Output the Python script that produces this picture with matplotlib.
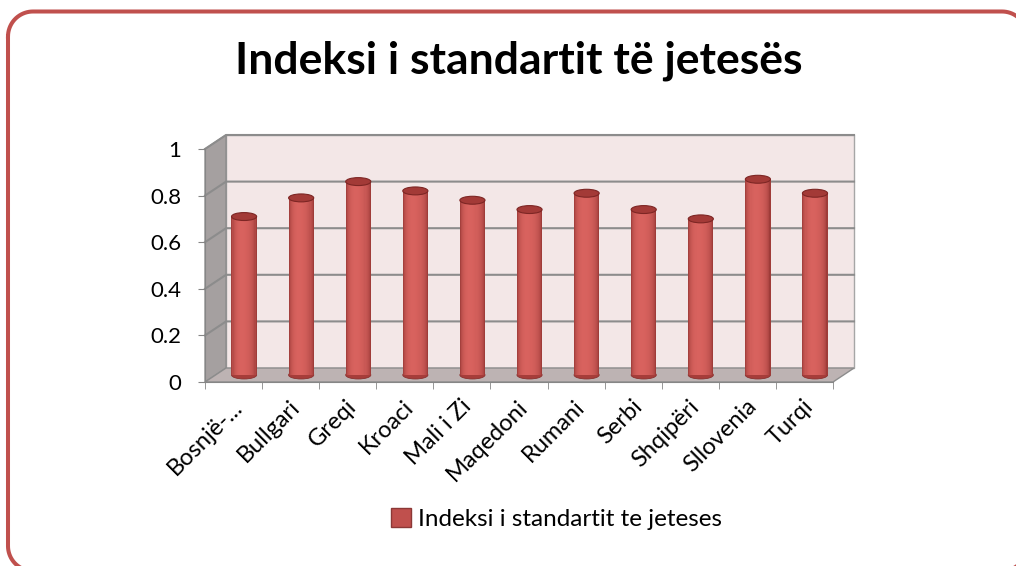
import matplotlib.pyplot as plt
import matplotlib.transforms as mtransforms
import numpy as np
from matplotlib.colors import to_rgb
from matplotlib.lines import Line2D
from matplotlib.patches import Ellipse, Patch, Polygon, Rectangle

countries = ["Bosnjë-...", "Bullgari", "Greqi", "Kroaci", "Mali i Zi", "Maqedoni",
             "Rumani", "Serbi", "Shqipëri", "Sllovenia", "Turqi"]
values = [0.68, 0.76, 0.83, 0.79, 0.75, 0.71, 0.78, 0.71, 0.67, 0.84, 0.78]
y_ticks = [0, 0.2, 0.4, 0.6, 0.8, 1]
y_labels = ["0", "0.2", "0.4", "0.6", "0.8", "1"]
series_name = "Indeksi i standartit te jeteses"
title = "Indeksi i standartit të jetesës"

plt.rcParams["font.family"] = ["Lato", "DejaVu Sans"]

DX, DY = 0.368, 0.060   # depth of the 3d box, in data units
BAR_W = 0.44
CAP_H = 0.034
GRID = "#8c8c8c"


def rounded_frame(x0, y0, x1, y1, r):
    # outline of a rounded rectangle (inches), traced clockwise
    a = np.linspace(0, np.pi / 2, 20)
    xs, ys = [], []
    corners = [(x0 + r, y1 - r, np.pi), (x1 - r, y1 - r, np.pi / 2),
               (x1 - r, y0 + r, 0), (x0 + r, y0 + r, -np.pi / 2)]
    for cx, cy, start in corners:
        t = start - a
        xs.extend(cx + r * np.cos(t))
        ys.extend(cy + r * np.sin(t))
    xs.append(xs[0])
    ys.append(ys[0])
    return xs, ys


def main():
    n = len(values)
    fig = plt.figure(figsize=(10.16, 5.66), dpi=100)
    ax = fig.add_axes([0.2018, 0.3251, 0.6181, 0.4117])
    ax.set_xlim(0, n)
    ax.set_ylim(0, 1)
    ax.patch.set_visible(False)

    # box: back wall, side wall, floor
    ax.add_patch(Rectangle((DX, DY), n, 1, facecolor="#f3e7e7", edgecolor="#a6a6a6",
                           lw=1, zorder=0.5, clip_on=False))
    ax.add_patch(Polygon([(0, 0), (0, 1), (DX, 1 + DY), (DX, DY)], facecolor="#a5a0a0",
                         edgecolor=GRID, lw=1, zorder=0.6, clip_on=False))
    ax.add_patch(Polygon([(0, 0), (n, 0), (n + DX, DY), (DX, DY)], facecolor="#bdb3b3",
                         edgecolor=GRID, lw=1, zorder=0.7, clip_on=False))
    for t in y_ticks[1:]:
        ax.plot([0, DX, n + DX], [t, t + DY, t + DY], color=GRID, lw=1.5,
                zorder=0.65, clip_on=False)

    # cylinders
    x = np.arange(n) + 0.5 + DX / 2
    base = DY / 2
    dark = np.array(to_rgb("#7a2422"))
    light = np.array(to_rgb("#d8625e"))
    n_strip = 24
    sw = BAR_W / n_strip
    for i in range(n):
        ax.add_patch(Ellipse((x[i], base), BAR_W, CAP_H, facecolor="#a63d3a",
                             edgecolor="#8a302e", lw=0.6, zorder=1.9, clip_on=False))
    for k in range(n_strip):
        u = (k + 0.5) / n_strip * 2 - 1
        if u < -0.2:
            w = (u + 0.2) / 0.8
        else:
            w = (u + 0.2) / 1.2
        s = np.sqrt(max(0.0, 1 - w ** 2)) ** 0.7
        col = dark + (light - dark) * s
        ax.bar(x - BAR_W / 2 + (k + 0.5) * sw, values, width=sw * 1.15, bottom=base,
               color=col, lw=0, zorder=2, clip_on=False)
    for i in range(n):
        ax.add_patch(Ellipse((x[i], values[i] + base), BAR_W, CAP_H, facecolor="#a33a37",
                             edgecolor="#7d2624", lw=0.8, zorder=3, clip_on=False))

    # axes, ticks
    for side in ["top", "right"]:
        ax.spines[side].set_visible(False)
    for side in ["left", "bottom"]:
        ax.spines[side].set_color("#868686")
        ax.spines[side].set_zorder(0.8)
    ax.set_yticks(y_ticks, y_labels, fontsize=16)
    ax.tick_params(axis="y", length=5, color="#868686", pad=12)
    ax.set_xticks(np.arange(n) + 0.5, countries, fontsize=17, rotation=45,
                  ha="right", va="top")
    ax.set_xticks(np.arange(n + 1), minor=True)
    ax.tick_params(axis="x", which="major", length=0, pad=10)
    ax.tick_params(axis="x", which="minor", length=5, color="#868686")
    shift = mtransforms.ScaledTranslation(0.13, 0, fig.dpi_scale_trans)
    for lab in ax.get_xticklabels():
        lab.set_transform(lab.get_transform() + shift)

    fig.text(0.511, 0.892, title, ha="center", va="center", fontsize=32,
             fontweight="bold")

    fig.legend(handles=[Patch(facecolor="#c0504d", edgecolor="#8c3836", label=series_name)],
               loc="center", bbox_to_anchor=(0.548, 0.083), frameon=False, fontsize=17.5,
               handlelength=0.8, handleheight=0.8, handletextpad=0.3)

    # outer rounded frame, partly cut off at the right and bottom
    fx, fy = rounded_frame(0.08, -0.05, 10.27, 5.545, 0.25)
    fig.add_artist(Line2D(fx, fy, transform=fig.dpi_scale_trans, color="#c0504d", lw=2.9))

    fig.savefig("out.png", dpi=100)


if __name__ == "__main__":
    main()
